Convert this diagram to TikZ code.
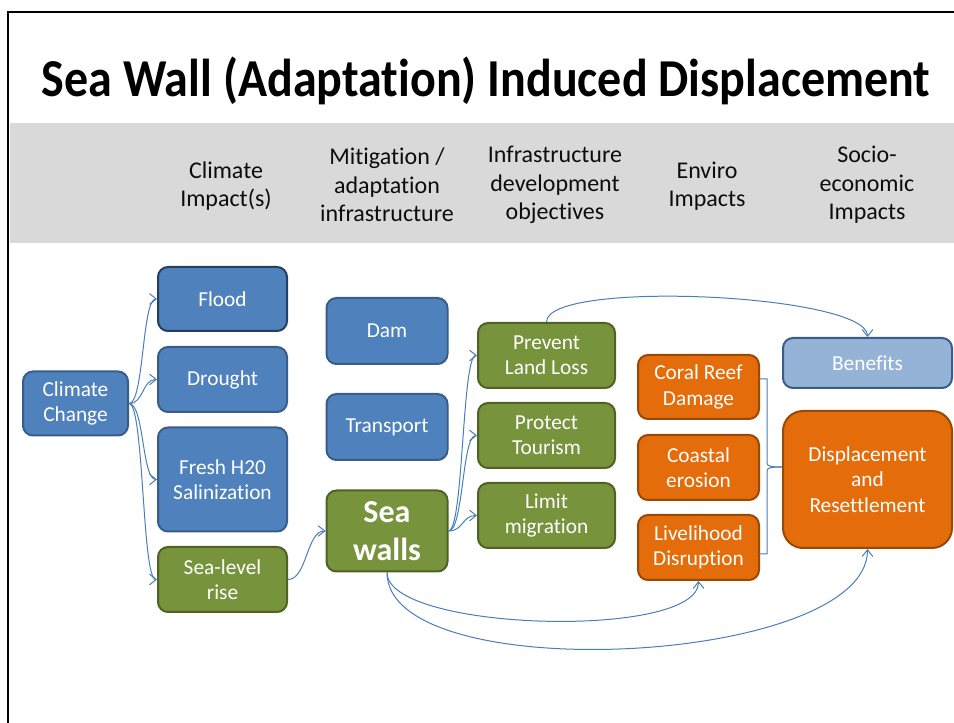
\documentclass[tikz,border=0pt]{standalone}
\usepackage{fontspec}
\setmainfont{Carlito}[Ligatures=NoCommon]
\usepackage{xcolor}
\usetikzlibrary{arrows.meta}

\definecolor{boxblue}{HTML}{4F81BD}
\definecolor{edgeblue}{HTML}{385D8A}
\definecolor{darkblue}{HTML}{243F60}
\definecolor{boxgreen}{HTML}{77933C}
\definecolor{edgegreen}{HTML}{4F6228}
\definecolor{boxorange}{HTML}{E46C0A}
\definecolor{edgeorange}{HTML}{984807}
\definecolor{paleblue}{HTML}{95B3D7}
\definecolor{bandgray}{HTML}{D9D9D9}
\definecolor{linkblue}{HTML}{4A7EBB}

\tikzset{
  box/.style={rectangle, rounded corners=7.5pt, line width=1.5pt, inner sep=0pt,
    text=white, align=center, font=\fontsize{16}{19}\selectfont},
  bluebox/.style={box, fill=boxblue, draw=edgeblue},
  greenbox/.style={box, fill=boxgreen, draw=edgegreen},
  orangebox/.style={box, fill=boxorange, draw=edgeorange},
  colhead/.style={align=center, text=black!95, font=\fontsize{18}{21.4}\selectfont},
  link/.style={draw=linkblue, line width=0.75pt, ->}
}

\begin{document}
\begin{tikzpicture}[x=0.75pt, y=-0.75pt, >={Straight Barb[length=5pt,width=8pt]}]
  \useasboundingbox (0,0) rectangle (954,723);
  % slide frame and header band
  \fill[bandgray] (10,123) rectangle (954,243);
  \draw[line width=1.9pt] (8,723) -- (8,12) -- (954,12);
  \node[anchor=base, font=\fontsize{40}{48}\selectfont\bfseries] (title) at (486,97)
    {\scalebox{0.9}[1]{Sea Wall (Adaptation) Induced Displacement}};

  % column headings
  \node[colhead] (h1) at (226,186) {Climate\\Impact(s)};
  \node[colhead] (h2) at (387,185) {Mitigation /\\adaptation\\infrastructure};
  \node[colhead] (h3) at (555,185) {Infrastructure\\development\\objectives};
  \node[colhead] (h4) at (707,186) {Enviro\\Impacts};
  \node[colhead] (h5) at (867,185) {Socio-\\economic\\Impacts};

  % causes and climate impacts
  \node[bluebox, minimum width=78.75pt, minimum height=48pt] (climate) at (75.5,403.5) {Climate\\Change};
  \node[bluebox, draw=darkblue, minimum width=96.75pt, minimum height=48pt] (flood) at (222.5,299) {Flood};
  \node[bluebox, minimum width=96.75pt, minimum height=48.75pt] (drought) at (222.5,379.5) {Drought};
  \node[bluebox, minimum width=96.75pt, minimum height=78pt] (fresh) at (222.5,479.5) {Fresh H20\\Salinization};
  \node[greenbox, minimum width=96.75pt, minimum height=48.75pt] (sealevel) at (222.5,579.5) {Sea-level\\rise};

  % infrastructure
  \node[bluebox, minimum width=90.75pt, minimum height=49.5pt] (dam) at (387,331) {Dam};
  \node[bluebox, minimum width=90.75pt, minimum height=49.5pt] (transport) at (387,427) {Transport};
  \node[greenbox, minimum width=90.75pt, minimum height=60.75pt,
    font=\fontsize{24}{28}\selectfont\bfseries] (seawalls) at (387,531) {Sea\\walls};

  % objectives
  \node[greenbox, minimum width=102.75pt, minimum height=48.75pt] (prevent) at (546.5,355.5) {Prevent\\Land Loss};
  \node[greenbox, minimum width=102.75pt, minimum height=48.75pt] (protect) at (546.5,435.5) {Protect\\Tourism};
  \node[greenbox, minimum width=102.75pt, minimum height=48.75pt] (limit) at (546.5,515.5) {Limit\\migration};

  % impacts
  \node[orangebox, minimum width=90.75pt, minimum height=48pt] (coral) at (698.5,387) {Coral Reef\\Damage};
  \node[orangebox, minimum width=90.75pt, minimum height=48.75pt] (coastal) at (698.5,467.5) {Coastal\\erosion};
  \node[orangebox, minimum width=90.75pt, minimum height=48.75pt] (livelihood) at (698.5,547.5) {Livelihood\\Disruption};
  \node[bluebox, fill=paleblue, minimum width=126.75pt, minimum height=37.5pt] (benefits) at (867.5,363) {Benefits};
  \node[orangebox, rounded corners=15pt, minimum width=126.75pt, minimum height=102.75pt] (displace) at (867.5,479.5)
    {Displacement\\and\\Resettlement};

  % connectors
  \foreach \t in {flood,drought,fresh,sealevel}
    \draw[link] (climate.east) .. controls +(15,0) and +(-15,0) .. (\t.west);
  \draw[link] (sealevel.east) .. controls +(19,0) and +(-19,0) .. (seawalls.west);
  \foreach \t in {prevent,protect,limit}
    \draw[link] (seawalls.east) .. controls +(15,0) and +(-15,0) .. (\t.west);
  \draw[link] (prevent.north) .. controls +(0,-43) and +(0,-43) .. (benefits.north);
  \draw[link] (seawalls.south) .. controls +(0,59) and +(0,59) .. (livelihood.south);
  \draw[link] (seawalls.south) .. controls +(0,117) and +(0,117) .. (displace.south);

  % brace joining the impacts
  \coordinate (brace) at (displace.west |- 0,467);
  \draw[draw=linkblue, line width=0.75pt] (759,379) -- (767,379) -- (767,463)
    .. controls (767,466) and (770,467) .. (brace);
  \draw[draw=linkblue, line width=0.75pt] (759,554) -- (767,554) -- (767,471)
    .. controls (767,468) and (770,467) .. (brace);
\end{tikzpicture}
\end{document}
